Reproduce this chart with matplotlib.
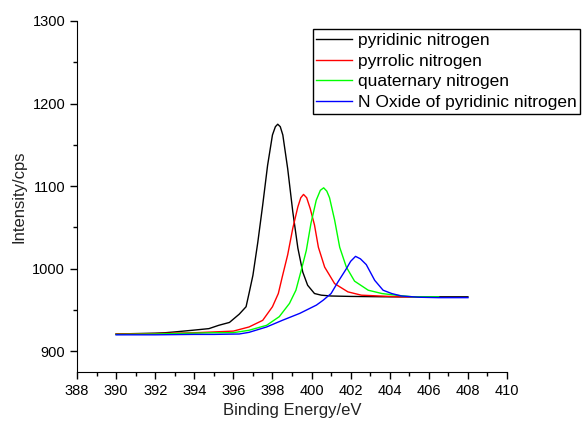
import matplotlib
matplotlib.use("Agg")
import matplotlib.pyplot as plt
from matplotlib.ticker import MultipleLocator

plt.rcParams['font.family'] = ['Liberation Sans', 'DejaVu Sans']

# pyridinic nitrogen
x_pyridinic = [390, 391, 392, 392.5, 393, 393.9, 394.75, 395.25, 395.8, 396.3, 396.65,
               396.8, 397, 397.25, 397.5, 397.75, 398, 398.15, 398.27, 398.4, 398.53,
               398.78, 399.04, 399.3, 399.55, 399.8, 400.15, 400.5, 401, 402, 404, 406, 408]
y_pyridinic = [921, 921.5, 922, 922.5, 923.5, 925.5, 927.5, 931.5, 935, 945, 954,
               970, 992, 1032, 1077, 1125, 1162, 1172, 1175, 1172, 1162,
               1121, 1069, 1025, 996, 980, 970, 968, 967, 966.5, 966, 966, 966]

# pyrrolic nitrogen
x_pyrrolic = [390, 392, 393, 394, 395, 396, 396.8, 397.5, 398, 398.3, 398.5, 398.78,
              399.04, 399.3, 399.45, 399.59, 399.75, 399.93, 400.15, 400.35, 400.67,
              401.18, 401.86, 402.55, 403.5, 404.5, 405.5]
y_pyrrolic = [921, 921.5, 922, 922.5, 923.5, 924.5, 929.5, 937.5, 954, 970, 990, 1017,
              1049, 1075, 1086, 1090, 1086, 1073, 1053, 1026, 1002,
              982, 972, 968, 967, 966, 966]

# quaternary nitrogen
x_quaternary = [390, 392, 393, 394, 395, 396, 396.8, 397.7, 398.35, 398.87, 399.2,
                399.47, 399.73, 399.97, 400.24, 400.45, 400.62, 400.78, 400.92, 401.18,
                401.44, 401.78, 402.2, 402.9, 403.6, 404.3, 405.2, 406.5]
y_quaternary = [920.5, 921, 921.5, 922, 922.5, 922.6, 925.5, 931.5, 942, 958, 974,
                998, 1022, 1055, 1083, 1095, 1098, 1094, 1086, 1059,
                1026, 1002, 985, 974, 970, 968, 966, 966]

# N oxide of pyridinic nitrogen
x_oxide = [390, 392, 394, 395, 396.3, 396.8, 397.7, 398.5, 399.4, 400.25, 400.6, 401.0,
           401.35, 401.78, 402.0, 402.25, 402.5, 402.8, 403.23, 403.66, 404.1, 404.6,
           405.5, 406.5, 408]
y_oxide = [920, 920, 920.5, 920.5, 921, 923, 929.5, 937.5, 946, 956, 962, 970,
           984, 1000, 1009, 1015, 1012, 1005, 986, 974, 970, 967,
           965.5, 965, 965]

labels = ['pyridinic nitrogen', 'pyrrolic nitrogen', 'quaternary nitrogen',
          'N Oxide of pyridinic nitrogen']
colors = ['#000000', '#ff0000', '#00ff00', '#0000ff']

fig = plt.figure(figsize=(5.85, 4.23), dpi=100)
ax = fig.add_axes([0.1316, 0.1206, 0.7351, 0.8298])

series = [(x_pyridinic, y_pyridinic), (x_pyrrolic, y_pyrrolic),
          (x_quaternary, y_quaternary), (x_oxide, y_oxide)]
for (xs, ys), lab, c in zip(series, labels, colors):
    ax.plot(xs, ys, color=c, linewidth=1.0, label=lab)

ax.set_xlim(388, 410)
ax.set_ylim(875, 1300)
ax.xaxis.set_major_locator(MultipleLocator(2))
ax.xaxis.set_minor_locator(MultipleLocator(1))
ax.yaxis.set_major_locator(MultipleLocator(100))
ax.yaxis.set_minor_locator(MultipleLocator(50))
ax.spines['top'].set_visible(False)
ax.spines['right'].set_visible(False)
ax.tick_params(which='major', direction='out', length=5, width=1, labelsize=10.5)
ax.tick_params(which='minor', direction='out', length=3, width=1)

ax.set_xlabel('Binding Energy/eV', fontsize=12, color='#222222')
ax.set_ylabel('Intensity/cps', fontsize=12, color='#222222')

leg = fig.legend(loc='upper left', bbox_to_anchor=(0.5345, 0.9307), fontsize=12.5,
                 frameon=True, fancybox=False, shadow=False, borderpad=0.2,
                 labelspacing=0.32, handlelength=2.05, handletextpad=0.35,
                 borderaxespad=0)
leg.get_frame().set_edgecolor('black')
leg.get_frame().set_linewidth(1.0)
leg.get_frame().set_alpha(1)

fig.savefig('out.png', dpi=100, facecolor='white')
